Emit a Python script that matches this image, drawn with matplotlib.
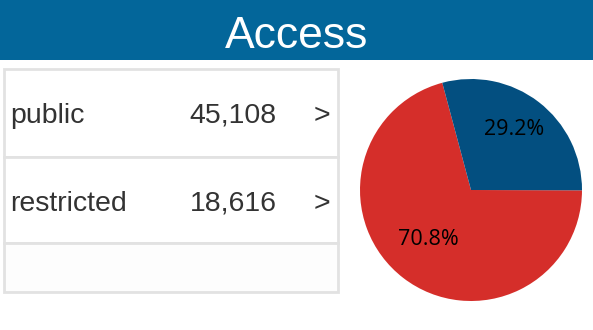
import matplotlib
matplotlib.use('Agg')
import matplotlib.pyplot as plt
from matplotlib.patches import Rectangle

# data
title = 'Access'
labels = ['public', 'restricted']
counts = [45108, 18616]
colors = ['#d52e2a', '#034f80']

W, H = 593, 330
fig = plt.figure(figsize=(W / 100, H / 100), dpi=100)
fig.patch.set_facecolor('white')

# background axes in pixel coordinates (title bar + table)
bg = fig.add_axes([0, 0, 1, 1])
bg.set_xlim(0, W)
bg.set_ylim(H, 0)
bg.axis('off')

# title bar
bg.add_patch(Rectangle((0, 0), W, 60, facecolor='#03669a', edgecolor='none'))
bg.text(W / 2, 48, title, color='white', fontsize=32, family='Liberation Sans',
        ha='center', va='baseline')

# table
left, right = 4, 338
row_top = 69
row_h = [88, 86, 49]
grid = '#e2e2e2'
txt = '#333333'
y = row_top
for i, h in enumerate(row_h):
    face = 'white' if i < len(labels) else '#fdfdfd'
    bg.add_patch(Rectangle((left, y), right - left, h, facecolor=face,
                           edgecolor=grid, linewidth=2))
    if i < len(labels):
        base = y + 54
        bg.text(10, base, labels[i], fontsize=20.5, color=txt,
                family='Liberation Sans', ha='left', va='baseline')
        bg.text(277, base, f'{counts[i]:,}', fontsize=20.5, color=txt,
                family='Liberation Sans', ha='right', va='baseline')
        bg.text(322, base, '>', fontsize=20.5, color=txt,
                family='Liberation Sans', ha='center', va='baseline')
    y += h

# pie
cx, cy, r = 471, 190, 111
pax = fig.add_axes([(cx - r) / W, (H - cy - r) / H, 2 * r / W, 2 * r / H])
wedges, texts, autotexts = pax.pie(counts, colors=colors, startangle=105,
                                   counterclock=True, autopct='%1.1f%%',
                                   pctdistance=0.63,
                                   textprops={'fontsize': 15.5, 'family': 'Open Sans',
                                              'color': 'black'})
for t in autotexts:
    t.set_y(t.get_position()[1] + 0.05)
pax.set_xlim(-1, 1)
pax.set_ylim(-1, 1)

fig.savefig('out.png', dpi=100)
